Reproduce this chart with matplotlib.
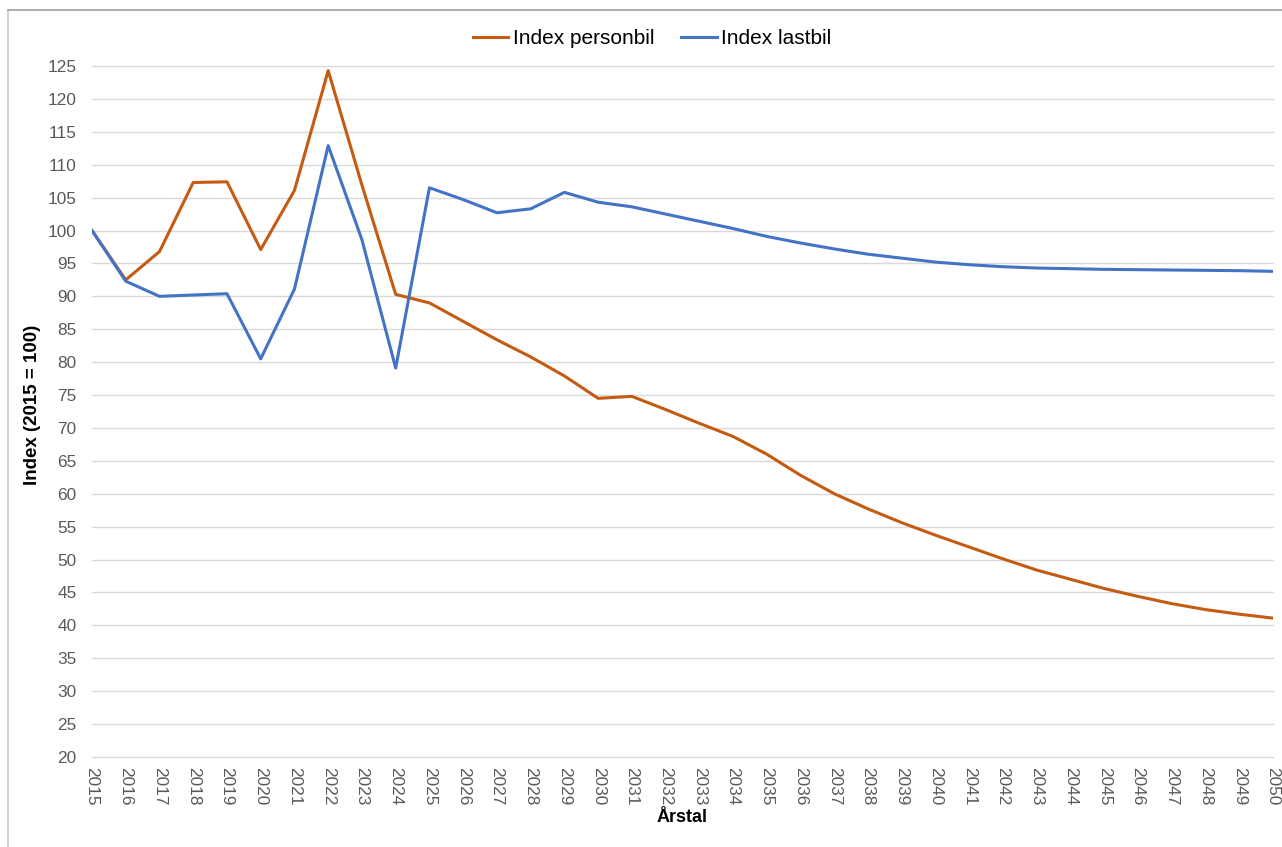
import matplotlib
matplotlib.use("Agg")
import matplotlib.pyplot as plt
from matplotlib.lines import Line2D

plt.rcParams['font.family'] = ['Liberation Sans', 'DejaVu Sans']

years = list(range(2015, 2051))
personbil = [100, 92.5, 96.8, 107.3, 107.4, 97.1, 106.1, 124.3, 106.9, 90.3,
             89.0, 86.2, 83.4, 80.8, 77.9, 74.5, 74.8, 72.8, 70.7, 68.7,
             66.0, 62.8, 60.0, 57.7, 55.6, 53.7, 51.9, 50.1, 48.4, 47.0,
             45.6, 44.4, 43.3, 42.4, 41.7, 41.1]
lastbil = [100, 92.3, 90.0, 90.2, 90.4, 80.5, 91.1, 112.9, 98.6, 79.1,
           106.5, 104.7, 102.7, 103.3, 105.8, 104.3, 103.6, 102.5, 101.4, 100.3,
           99.1, 98.1, 97.2, 96.4, 95.8, 95.2, 94.8, 94.5, 94.3, 94.2,
           94.1, 94.05, 94.0, 93.95, 93.9, 93.8]
yticks = list(range(20, 126, 5))

W, H = 1282, 847
fig = plt.figure(figsize=(W/100, H/100), dpi=100)
ax = fig.add_axes([92/W, 1-757/H, (1273-92)/W, (757-66)/H])

ax.plot(years, personbil, color='#C55A11', lw=2.2, label='Index personbil', solid_joinstyle='round')
ax.plot(years, lastbil, color='#4472C4', lw=2.2, label='Index lastbil', solid_joinstyle='round')

ax.set_xlim(2015, 2050)
ax.set_ylim(20, 125)
ax.set_yticks(yticks)
ax.set_xticks(years)
ax.set_xticklabels([str(y) for y in years], rotation=-90, va='top', ha='center')
ax.tick_params(axis='both', length=0, labelsize=12.4, labelcolor='#595959')
ax.tick_params(axis='x', pad=7)
ax.tick_params(axis='y', pad=11)
ax.grid(axis='y', color='#d9d9d9', lw=1)
for gl in ax.get_ygridlines():
    gl.set_clip_on(False)
ax.set_axisbelow(True)
for s in ax.spines.values():
    s.set_visible(False)

fig.text(682/W, 1-817/H, 'Årstal', ha='center', va='center', fontsize=13, fontweight='bold')
fig.text(33/W, 1-405/H, 'Index (2015 = 100)', ha='center', va='center', rotation=90,
         fontsize=13.5, fontweight='bold')

fig.legend(loc='center', bbox_to_anchor=(652/W, 1-39/H), ncol=2, frameon=False,
           fontsize=15, handlelength=1.7, handletextpad=0.2, columnspacing=1.3)

fig.add_artist(Line2D([8/W, 8/W], [0, 1-10/H], color='#c8c8c8', lw=1.2, transform=fig.transFigure))
fig.add_artist(Line2D([8/W, 1], [1-10/H, 1-10/H], color='#a0a0a0', lw=1.2, transform=fig.transFigure))

fig.savefig('out.png', dpi=100)
